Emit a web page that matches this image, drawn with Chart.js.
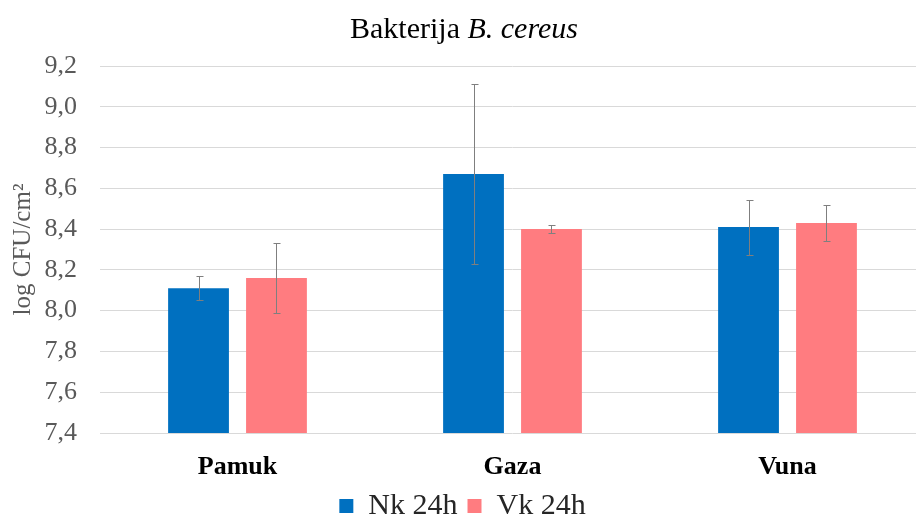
<!DOCTYPE html>
<html lang="hr">
<head>
    <meta charset="UTF-8">
    <title>Bakterija B. cereus</title>
    <script src="https://cdn.jsdelivr.net/npm/chart.js@4/dist/chart.umd.min.js"></script>
    <style>
        body {
            margin: 0;
            padding: 0;
            background: #ffffff;
            overflow: hidden;
        }
        canvas {
            display: block;
        }
    </style>
</head>
<body>
    <canvas id="cereusChart" width="926" height="531"></canvas>

    <script>
        // podaci
        const categories = ['Pamuk', 'Gaza', 'Vuna'];
        const nkValues = [8.11, 8.67, 8.41];
        const nkErrors = [0.06, 0.44, 0.135];
        const vkValues = [8.16, 8.40, 8.43];
        const vkErrors = [0.17, 0.02, 0.09];

        const serif = '"Liberation Serif", "Times New Roman", serif';

        // naslov s kurzivom za ime bakterije
        const titlePlugin = {
            id: 'mixedTitle',
            afterDraw(chart) {
                const ctx = chart.ctx;
                const parts = [
                    { text: 'Bakterija ', font: '30px ' + serif },
                    { text: 'B. cereus', font: 'italic 30px ' + serif }
                ];
                ctx.save();
                let total = 0;
                parts.forEach(p => { ctx.font = p.font; p.w = ctx.measureText(p.text).width; total += p.w; });
                let x = 464 - total / 2;
                ctx.fillStyle = '#000000';
                ctx.textBaseline = 'alphabetic';
                ctx.textAlign = 'left';
                parts.forEach(p => {
                    ctx.font = p.font;
                    ctx.fillText(p.text, x, 38);
                    x += p.w;
                });
                ctx.restore();
            }
        };

        // error bars
        const errorBarPlugin = {
            id: 'errorBars',
            afterDatasetsDraw(chart) {
                const ctx = chart.ctx;
                const yScale = chart.scales.y;
                ctx.save();
                ctx.strokeStyle = '#7f7f7f';
                ctx.lineWidth = 1;
                chart.data.datasets.forEach((ds, i) => {
                    const meta = chart.getDatasetMeta(i);
                    meta.data.forEach((bar, j) => {
                        const v = ds.data[j];
                        const e = ds.errors[j];
                        const x = Math.round(bar.x) + 0.5;
                        const yTop = Math.round(yScale.getPixelForValue(v + e)) + 0.5;
                        const yBot = Math.round(yScale.getPixelForValue(v - e)) + 0.5;
                        ctx.beginPath();
                        ctx.moveTo(x, yTop);
                        ctx.lineTo(x, yBot);
                        ctx.moveTo(x - 3, yTop);
                        ctx.lineTo(x + 4, yTop);
                        ctx.moveTo(x - 3, yBot);
                        ctx.lineTo(x + 4, yBot);
                        ctx.stroke();
                    });
                });
                ctx.restore();
            }
        };

        const config = {
            type: 'bar',
            data: {
                labels: categories,
                datasets: [
                    {
                        label: 'Nk 24h',
                        data: nkValues,
                        errors: nkErrors,
                        backgroundColor: '#0070C0',
                        categoryPercentage: 0.567,
                        barPercentage: 0.78
                    },
                    {
                        label: 'Vk 24h',
                        data: vkValues,
                        errors: vkErrors,
                        backgroundColor: '#FF7C80',
                        categoryPercentage: 0.567,
                        barPercentage: 0.78
                    }
                ]
            },
            options: {
                responsive: false,
                animation: false,
                layout: {
                    padding: { top: 66, right: 1, bottom: 0, left: 0 }
                },
                plugins: {
                    title: { display: false },
                    tooltip: { enabled: false },
                    legend: {
                        position: 'bottom',
                        labels: {
                            font: { family: serif, size: 30, lineHeight: 1 },
                            color: '#262626',
                            boxWidth: 14,
                            boxHeight: 14,
                            padding: 10
                        }
                    }
                },
                scales: {
                    x: {
                        afterFit(scale) { scale.height = 48; },
                        grid: { display: false, drawTicks: false },
                        border: { display: false },
                        ticks: {
                            font: { family: serif, size: 26, weight: 'bold', lineHeight: 1 },
                            color: '#000000',
                            padding: 21
                        }
                    },
                    y: {
                        min: 7.4,
                        max: 9.2,
                        afterFit(scale) { scale.width = 100; },
                        grid: { color: '#d9d9d9', lineWidth: 1, drawTicks: false },
                        border: { display: false },
                        ticks: {
                            stepSize: 0.2,
                            padding: 23,
                            font: { family: serif, size: 26 },
                            color: '#595959',
                            callback: value => value.toFixed(1).replace('.', ',')
                        },
                        title: {
                            display: true,
                            text: 'log CFU/cm²',
                            font: { family: serif, size: 25 },
                            color: '#595959',
                            padding: { top: 8, bottom: 0 }
                        }
                    }
                }
            },
            plugins: [titlePlugin, errorBarPlugin]
        };

        const cereusCtx = document.getElementById('cereusChart').getContext('2d');
        const cereusChart = new Chart(cereusCtx, config);
    </script>
</body>
</html>
